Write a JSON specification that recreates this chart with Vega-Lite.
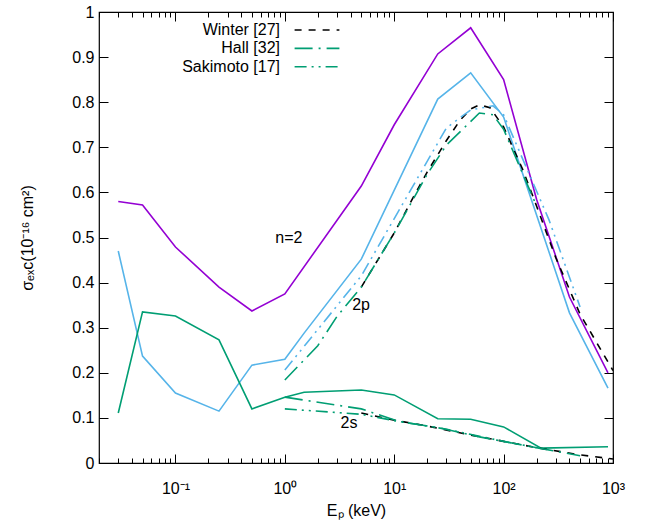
{
  "$schema": "https://vega.github.io/schema/vega-lite/v6.json",
  "width": 514,
  "height": 451,
  "autosize": {"type": "none"},
  "padding": {"left": 99, "top": 12, "right": 35, "bottom": 69},
  "config": {
    "font": "Liberation Sans",
    "view": {"stroke": "black", "strokeWidth": 1.2},
    "axis": {
      "domain": false,
      "grid": false,
      "tickColor": "black",
      "labelColor": "black",
      "titleColor": "black",
      "labelFontSize": 16,
      "titleFontSize": 16,
      "titleFontWeight": "normal",
      "tickWidth": 1
    }
  },
  "datasets": {
    "curves": [
      {"curve": "n2", "state": "n=2", "source": "this", "E": 0.03, "sigma": 0.58},
      {"curve": "n2", "state": "n=2", "source": "this", "E": 0.05, "sigma": 0.572},
      {"curve": "n2", "state": "n=2", "source": "this", "E": 0.1, "sigma": 0.479},
      {"curve": "n2", "state": "n=2", "source": "this", "E": 0.25, "sigma": 0.39},
      {"curve": "n2", "state": "n=2", "source": "this", "E": 0.5, "sigma": 0.337},
      {"curve": "n2", "state": "n=2", "source": "this", "E": 1, "sigma": 0.375},
      {"curve": "n2", "state": "n=2", "source": "this", "E": 5, "sigma": 0.614},
      {"curve": "n2", "state": "n=2", "source": "this", "E": 10, "sigma": 0.75},
      {"curve": "n2", "state": "n=2", "source": "this", "E": 25, "sigma": 0.907},
      {"curve": "n2", "state": "n=2", "source": "this", "E": 50, "sigma": 0.965},
      {"curve": "n2", "state": "n=2", "source": "this", "E": 100, "sigma": 0.85},
      {"curve": "n2", "state": "n=2", "source": "this", "E": 200, "sigma": 0.585},
      {"curve": "n2", "state": "n=2", "source": "this", "E": 400, "sigma": 0.368},
      {"curve": "n2", "state": "n=2", "source": "this", "E": 900, "sigma": 0.2},

      {"curve": "p", "state": "2p", "source": "this", "E": 0.03, "sigma": 0.47},
      {"curve": "p", "state": "2p", "source": "this", "E": 0.05, "sigma": 0.237},
      {"curve": "p", "state": "2p", "source": "this", "E": 0.1, "sigma": 0.155},
      {"curve": "p", "state": "2p", "source": "this", "E": 0.25, "sigma": 0.115},
      {"curve": "p", "state": "2p", "source": "this", "E": 0.5, "sigma": 0.217},
      {"curve": "p", "state": "2p", "source": "this", "E": 1, "sigma": 0.23},
      {"curve": "p", "state": "2p", "source": "this", "E": 1.5, "sigma": 0.288},
      {"curve": "p", "state": "2p", "source": "this", "E": 5, "sigma": 0.452},
      {"curve": "p", "state": "2p", "source": "this", "E": 25, "sigma": 0.807},
      {"curve": "p", "state": "2p", "source": "this", "E": 50, "sigma": 0.865},
      {"curve": "p", "state": "2p", "source": "this", "E": 100, "sigma": 0.767},
      {"curve": "p", "state": "2p", "source": "this", "E": 400, "sigma": 0.333},
      {"curve": "p", "state": "2p", "source": "this", "E": 900, "sigma": 0.166},

      {"curve": "s", "state": "2s", "source": "this", "E": 0.03, "sigma": 0.111},
      {"curve": "s", "state": "2s", "source": "this", "E": 0.05, "sigma": 0.335},
      {"curve": "s", "state": "2s", "source": "this", "E": 0.1, "sigma": 0.326},
      {"curve": "s", "state": "2s", "source": "this", "E": 0.25, "sigma": 0.273},
      {"curve": "s", "state": "2s", "source": "this", "E": 0.5, "sigma": 0.12},
      {"curve": "s", "state": "2s", "source": "this", "E": 1, "sigma": 0.146},
      {"curve": "s", "state": "2s", "source": "this", "E": 1.5, "sigma": 0.157},
      {"curve": "s", "state": "2s", "source": "this", "E": 5, "sigma": 0.162},
      {"curve": "s", "state": "2s", "source": "this", "E": 10, "sigma": 0.151},
      {"curve": "s", "state": "2s", "source": "this", "E": 25, "sigma": 0.098},
      {"curve": "s", "state": "2s", "source": "this", "E": 50, "sigma": 0.097},
      {"curve": "s", "state": "2s", "source": "this", "E": 100, "sigma": 0.08},
      {"curve": "s", "state": "2s", "source": "this", "E": 220, "sigma": 0.033},
      {"curve": "s", "state": "2s", "source": "this", "E": 900, "sigma": 0.036},

      {"curve": "Wp", "state": "2p", "source": "Winter [27]", "E": 5, "sigma": 0.39},
      {"curve": "Wp", "state": "2p", "source": "Winter [27]", "E": 10, "sigma": 0.51},
      {"curve": "Wp", "state": "2p", "source": "Winter [27]", "E": 15, "sigma": 0.59},
      {"curve": "Wp", "state": "2p", "source": "Winter [27]", "E": 20, "sigma": 0.645},
      {"curve": "Wp", "state": "2p", "source": "Winter [27]", "E": 30, "sigma": 0.715},
      {"curve": "Wp", "state": "2p", "source": "Winter [27]", "E": 40, "sigma": 0.76},
      {"curve": "Wp", "state": "2p", "source": "Winter [27]", "E": 50, "sigma": 0.785},
      {"curve": "Wp", "state": "2p", "source": "Winter [27]", "E": 60, "sigma": 0.794},
      {"curve": "Wp", "state": "2p", "source": "Winter [27]", "E": 75, "sigma": 0.788},
      {"curve": "Wp", "state": "2p", "source": "Winter [27]", "E": 100, "sigma": 0.745},
      {"curve": "Wp", "state": "2p", "source": "Winter [27]", "E": 150, "sigma": 0.65},
      {"curve": "Wp", "state": "2p", "source": "Winter [27]", "E": 200, "sigma": 0.57},
      {"curve": "Wp", "state": "2p", "source": "Winter [27]", "E": 300, "sigma": 0.455},
      {"curve": "Wp", "state": "2p", "source": "Winter [27]", "E": 500, "sigma": 0.33},
      {"curve": "Wp", "state": "2p", "source": "Winter [27]", "E": 1000, "sigma": 0.205},

      {"curve": "Hp", "state": "2p", "source": "Hall [32]", "E": 1, "sigma": 0.184},
      {"curve": "Hp", "state": "2p", "source": "Hall [32]", "E": 2, "sigma": 0.26},
      {"curve": "Hp", "state": "2p", "source": "Hall [32]", "E": 3, "sigma": 0.325},
      {"curve": "Hp", "state": "2p", "source": "Hall [32]", "E": 5, "sigma": 0.39},
      {"curve": "Hp", "state": "2p", "source": "Hall [32]", "E": 10, "sigma": 0.51},
      {"curve": "Hp", "state": "2p", "source": "Hall [32]", "E": 20, "sigma": 0.64},
      {"curve": "Hp", "state": "2p", "source": "Hall [32]", "E": 30, "sigma": 0.705},
      {"curve": "Hp", "state": "2p", "source": "Hall [32]", "E": 60, "sigma": 0.776},
      {"curve": "Hp", "state": "2p", "source": "Hall [32]", "E": 80, "sigma": 0.772},
      {"curve": "Hp", "state": "2p", "source": "Hall [32]", "E": 100, "sigma": 0.74},
      {"curve": "Hp", "state": "2p", "source": "Hall [32]", "E": 200, "sigma": 0.57},

      {"curve": "Ws", "state": "2s", "source": "Winter [27]", "E": 5, "sigma": 0.111},
      {"curve": "Ws", "state": "2s", "source": "Winter [27]", "E": 10, "sigma": 0.095},
      {"curve": "Ws", "state": "2s", "source": "Winter [27]", "E": 20, "sigma": 0.082},
      {"curve": "Ws", "state": "2s", "source": "Winter [27]", "E": 50, "sigma": 0.062},
      {"curve": "Ws", "state": "2s", "source": "Winter [27]", "E": 100, "sigma": 0.048},
      {"curve": "Ws", "state": "2s", "source": "Winter [27]", "E": 200, "sigma": 0.034},
      {"curve": "Ws", "state": "2s", "source": "Winter [27]", "E": 500, "sigma": 0.018},
      {"curve": "Ws", "state": "2s", "source": "Winter [27]", "E": 1000, "sigma": 0.009},

      {"curve": "Hs", "state": "2s", "source": "Hall [32]", "E": 1, "sigma": 0.146},
      {"curve": "Hs", "state": "2s", "source": "Hall [32]", "E": 5, "sigma": 0.12},
      {"curve": "Hs", "state": "2s", "source": "Hall [32]", "E": 11, "sigma": 0.092},
      {"curve": "Hs", "state": "2s", "source": "Hall [32]", "E": 26, "sigma": 0.078},
      {"curve": "Hs", "state": "2s", "source": "Hall [32]", "E": 60, "sigma": 0.058},
      {"curve": "Hs", "state": "2s", "source": "Hall [32]", "E": 210, "sigma": 0.033},
      {"curve": "Hs", "state": "2s", "source": "Hall [32]", "E": 500, "sigma": 0.016},

      {"curve": "Ss", "state": "2s", "source": "Sakimoto [17]", "E": 1, "sigma": 0.12},
      {"curve": "Ss", "state": "2s", "source": "Sakimoto [17]", "E": 5, "sigma": 0.108},
      {"curve": "Ss", "state": "2s", "source": "Sakimoto [17]", "E": 10, "sigma": 0.094},
      {"curve": "Ss", "state": "2s", "source": "Sakimoto [17]", "E": 30, "sigma": 0.075},
      {"curve": "Ss", "state": "2s", "source": "Sakimoto [17]", "E": 100, "sigma": 0.048},
      {"curve": "Ss", "state": "2s", "source": "Sakimoto [17]", "E": 200, "sigma": 0.034},

      {"curve": "Sp", "state": "2p", "source": "Sakimoto [17]", "E": 1, "sigma": 0.206},
      {"curve": "Sp", "state": "2p", "source": "Sakimoto [17]", "E": 5, "sigma": 0.415},
      {"curve": "Sp", "state": "2p", "source": "Sakimoto [17]", "E": 30, "sigma": 0.743},
      {"curve": "Sp", "state": "2p", "source": "Sakimoto [17]", "E": 50, "sigma": 0.783},
      {"curve": "Sp", "state": "2p", "source": "Sakimoto [17]", "E": 80, "sigma": 0.792},
      {"curve": "Sp", "state": "2p", "source": "Sakimoto [17]", "E": 100, "sigma": 0.772},
      {"curve": "Sp", "state": "2p", "source": "Sakimoto [17]", "E": 260, "sigma": 0.539},
      {"curve": "Sp", "state": "2p", "source": "Sakimoto [17]", "E": 500, "sigma": 0.346}
    ],
    "labels": [
      {"text": "n=2", "E": 1.09, "sigma": 0.499},
      {"text": "2p", "E": 4.98, "sigma": 0.35},
      {"text": "2s", "E": 3.86, "sigma": 0.089}
    ]
  },
  "resolve": {
    "scale": {"color": "independent", "strokeDash": "independent"},
    "axis": {"x": "independent", "y": "independent"}
  },
  "layer": [
    {
      "data": {"name": "curves"},
      "transform": [{"filter": "datum.source === 'this'"}],
      "mark": {"type": "line", "strokeWidth": 1.6, "clip": true},
      "encoding": {
        "x": {
          "field": "E", "type": "quantitative",
          "scale": {"type": "log", "domain": [0.02, 1000], "nice": false},
          "axis": {
            "orient": "bottom",
            "title": "Eₚ (keV)",
            "titlePadding": 6,
            "values": [0.02,0.03,0.04,0.05,0.06,0.07,0.08,0.09,0.1,0.2,0.3,0.4,0.5,0.6,0.7,0.8,0.9,1,2,3,4,5,6,7,8,9,10,20,30,40,50,60,70,80,90,100,200,300,400,500,600,700,800,900,1000],
            "labelExpr": "datum.value == 0.1 ? '10⁻¹' : datum.value == 1 ? '10⁰' : datum.value == 10 ? '10¹' : datum.value == 100 ? '10²' : datum.value == 1000 ? '10³' : ''",
            "tickSize": {"condition": {"test": "indexof([0.1,1,10,100,1000], datum.value) >= 0", "value": -9}, "value": -5},
            "labelPadding": 26,
            "labelFlush": false
          }
        },
        "y": {
          "field": "sigma", "type": "quantitative",
          "scale": {"domain": [0, 1], "nice": false},
          "axis": {
            "orient": "left",
            "title": "σₑₓc(10⁻¹⁶ cm²)",
            "values": [0,0.1,0.2,0.3,0.4,0.5,0.6,0.7,0.8,0.9,1],
            "format": "~g",
            "tickSize": -9,
            "labelPadding": 14,
            "titlePadding": 36
          }
        },
        "color": {
          "field": "state", "type": "nominal",
          "scale": {"domain": ["n=2", "2p", "2s"], "range": ["#9400d3", "#56b4e9", "#009e73"]},
          "legend": null
        },
        "detail": {"field": "curve"}
      }
    },
    {
      "data": {"name": "curves"},
      "transform": [{"filter": "datum.source !== 'this' && datum.curve !== 'Sp'"}],
      "mark": {"type": "line", "strokeWidth": 1.6, "clip": true},
      "encoding": {
        "x": {"field": "E", "type": "quantitative", "axis": null},
        "y": {"field": "sigma", "type": "quantitative", "axis": null},
        "color": {
          "field": "source", "type": "nominal",
          "scale": {"domain": ["Winter [27]", "Hall [32]", "Sakimoto [17]"], "range": ["black", "#009e73", "#009e73"]},
          "legend": {
            "title": null,
            "orient": "none",
            "legendX": 209,
            "legendY": 9,
            "padding": 0,
            "symbolType": "M-2.8,0H2.8",
            "symbolSize": 256,
            "symbolStrokeWidth": 1.6,
            "labelFontSize": 16,
            "labelColor": "black",
            "labelAlign": "right",
            "labelOffset": -46,
            "labelLimit": 300,
            "rowPadding": 1.4
          }
        },
        "strokeDash": {
          "field": "source", "type": "nominal",
          "scale": {"domain": ["Winter [27]", "Hall [32]", "Sakimoto [17]"], "range": [[7, 7], [18, 6, 2, 6], [12, 5, 2, 5, 2, 5]]},
          "legend": {
            "title": null,
            "orient": "none",
            "legendX": 209,
            "legendY": 9,
            "padding": 0,
            "symbolType": "M-2.8,0H2.8",
            "symbolSize": 256,
            "symbolStrokeWidth": 1.6,
            "labelFontSize": 16,
            "labelColor": "black",
            "labelAlign": "right",
            "labelOffset": -46,
            "labelLimit": 300,
            "rowPadding": 1.4
          }
        },
        "detail": {"field": "curve"}
      }
    },
    {
      "data": {"name": "curves"},
      "transform": [{"filter": "datum.curve === 'Sp'"}],
      "mark": {"type": "line", "strokeWidth": 1.6, "clip": true, "color": "#56b4e9"},
      "encoding": {
        "x": {"field": "E", "type": "quantitative", "axis": null},
        "y": {"field": "sigma", "type": "quantitative", "axis": null},
        "strokeDash": {
          "field": "source", "type": "nominal",
          "scale": {"domain": ["Winter [27]", "Hall [32]", "Sakimoto [17]"], "range": [[7, 7], [18, 6, 2, 6], [12, 5, 2, 5, 2, 5]]},
          "legend": null
        },
        "detail": {"field": "curve"}
      }
    },
    {
      "data": {"name": "labels"},
      "mark": {"type": "text", "fontSize": 16, "color": "black"},
      "encoding": {
        "x": {"field": "E", "type": "quantitative",
          "axis": {"orient": "top", "labels": false, "title": null,
            "values": [0.02,0.03,0.04,0.05,0.06,0.07,0.08,0.09,0.1,0.2,0.3,0.4,0.5,0.6,0.7,0.8,0.9,1,2,3,4,5,6,7,8,9,10,20,30,40,50,60,70,80,90,100,200,300,400,500,600,700,800,900,1000],
            "tickSize": {"condition": {"test": "indexof([0.1,1,10,100,1000], datum.value) >= 0", "value": -9}, "value": -5}}},
        "y": {"field": "sigma", "type": "quantitative",
          "axis": {"orient": "right", "labels": false, "title": null,
            "values": [0,0.1,0.2,0.3,0.4,0.5,0.6,0.7,0.8,0.9,1], "tickSize": -9}},
        "text": {"field": "text"}
      }
    }
  ]
}
